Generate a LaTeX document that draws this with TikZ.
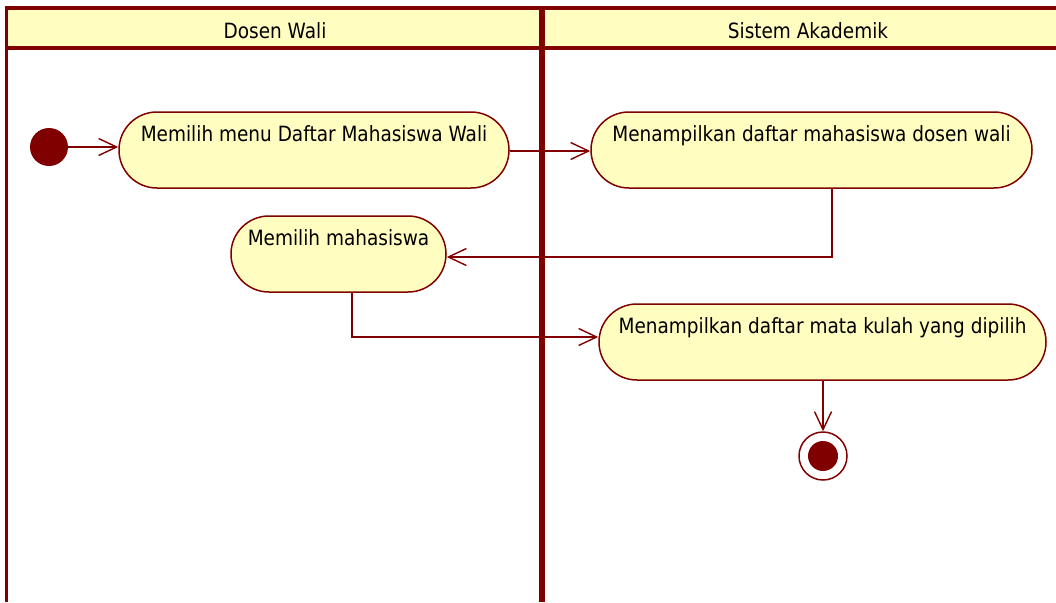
\documentclass[tikz,border=0pt]{standalone}
\usepackage{fontspec}
\setmainfont{DejaVu Sans}[FakeStretch=0.88]
\usetikzlibrary{arrows.meta}
\definecolor{umlred}{HTML}{800000}
\definecolor{umlfill}{HTML}{FFFDC0}

\begin{document}
\begin{tikzpicture}[x=1pt,y=-1pt,
  labelfont/.style={font=\fontsize{21}{24}\selectfont},
  action/.style={draw=umlred, fill=umlfill, line width=1.5pt,
    rounded corners=37.9pt, minimum height=76pt, inner sep=0pt,
    text height=15pt, text depth=33pt, labelfont},
  flow/.style={draw=umlred, line width=1.4pt,
    -{Straight Barb[length=18pt,width=17pt,line width=1.4pt]}},
  laneline/.style={draw=umlred, line width=4pt},
  initial/.style={circle, fill=umlred, minimum size=38pt, inner sep=0pt},
  finalring/.style={circle, draw=umlred, line width=1.5pt, minimum size=48pt, inner sep=0pt},
  finaldot/.style={circle, fill=umlred, minimum size=30pt, inner sep=0pt},
  lanetitle/.style={anchor=base, labelfont, inner sep=0pt}]

\useasboundingbox (0,0) rectangle (1056,602);

% swimlane headers
\fill[umlfill] (8,10) rectangle (1056,46);
\draw[laneline] (5,8) -- (1056,8);
\draw[laneline] (5,48) -- (1056,48);
\draw[draw=umlred, line width=3.5pt] (6.5,6) -- (6.5,602);
\draw[draw=umlred, line width=6pt] (542,6) -- (542,602);
\node[lanetitle] (dosen) at (275,38) {Dosen Wali};
\node[lanetitle] (sistem) at (808,38) {Sistem Akademik};

% activities
\node[initial] (start) at (49,147) {};
\node[action, minimum width=390pt] (a1) at (314,150) {Memilih menu Daftar Mahasiswa Wali};
\node[action, minimum width=441pt] (a2) at (811.5,150) {Menampilkan daftar mahasiswa dosen wali};
\node[action, minimum width=215pt] (a3) at (338.5,254) {Memilih mahasiswa};
\node[action, minimum width=447pt] (a4) at (822.5,342) {Menampilkan daftar mata kulah yang dipilih};
\node[finalring] (fin) at (823,456) {};
\node[finaldot] (findot) at (fin) {};

% control flows
\draw[flow] (start) -- (a1.west |- start);
\draw[flow] ([yshift=-1pt]a1.east) -- ([yshift=-1pt]a2.west);
\draw[flow] ([xshift=20.5pt]a2.south) |- ([yshift=-3pt]a3.east);
\draw[flow] ([xshift=13.5pt]a3.south) |- ([yshift=5pt]a4.west);
\draw[flow] (a4.south -| fin) -- (fin.north);
\end{tikzpicture}
\end{document}
